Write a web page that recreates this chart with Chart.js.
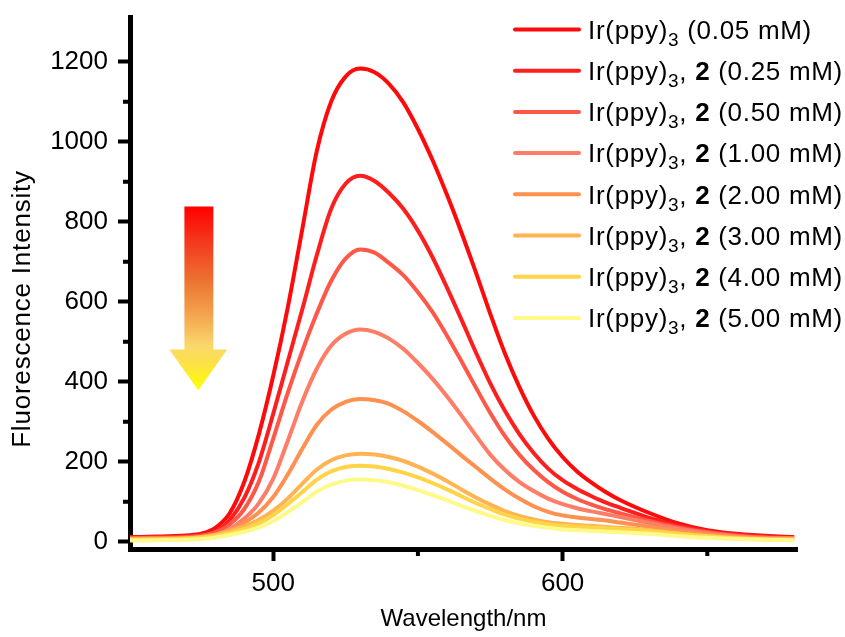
<!DOCTYPE html>
<html>
<head>
<meta charset="utf-8">
<script src="https://cdn.jsdelivr.net/npm/chart.js@4.4.1/dist/chart.umd.min.js"></script>
<style>
  html, body { margin: 0; padding: 0; background: #fff; }
  #wrap { width: 845px; height: 637px; }
</style>
</head>
<body>
<div id="wrap"><canvas id="spectraChart" width="845" height="637"></canvas></div>
<script>
// Emission spectra, Ir(ppy)3 with increasing amounts of 2
const WAVELENGTHS = [450, 460, 470, 475, 480, 485, 490, 495, 500, 505, 510, 515, 520, 525, 530, 535, 540, 545, 550, 555, 560, 565, 570, 575, 580, 585, 590, 595, 600, 605, 610, 615, 620, 630, 640, 650, 660, 670, 680];

const I_005 = [12, 13, 16, 20, 35, 72, 150, 268, 415, 585, 780, 975, 1100, 1163, 1183, 1174, 1145, 1098, 1032, 955, 868, 774, 674, 570, 472, 388, 316, 258, 212, 176, 148, 124, 104, 72, 46, 29, 20, 15, 12];
const I_025 = [10, 11, 13, 16, 25, 55, 110, 198, 320, 450, 580, 715, 832, 895, 915, 902, 872, 832, 778, 712, 636, 556, 474, 396, 328, 270, 222, 183, 154, 132, 114, 98, 85, 60, 41, 27, 18, 13, 10];
const I_050 = [9, 10, 12, 15, 24, 44, 82, 150, 258, 372, 476, 570, 652, 708, 731, 723, 697, 666, 624, 575, 516, 452, 386, 322, 265, 218, 180, 149, 125, 107, 93, 81, 71, 52, 36, 24, 16, 11, 9];
const I_100 = [8, 9, 10, 12, 18, 32, 58, 96, 158, 252, 350, 432, 490, 520, 531, 525, 508, 482, 447, 408, 364, 316, 266, 218, 180, 150, 127, 108, 94, 84, 76, 69, 62, 47, 33, 22, 14, 10, 8];
const I_200 = [7, 8, 9, 11, 17, 30, 48, 73, 112, 168, 232, 292, 330, 350, 357, 354, 345, 326, 302, 275, 246, 216, 187, 158, 131, 108, 89, 75, 66, 61, 57, 53, 48, 38, 27, 18, 12, 9, 8];
const I_300 = [6, 7, 9, 12, 18, 27, 39, 55, 78, 108, 145, 180, 204, 216, 220, 218, 212, 202, 188, 171, 152, 131, 111, 93, 77, 65, 56, 49, 45, 42, 40, 37, 35, 29, 21, 15, 10, 7, 6];
const I_400 = [5, 6, 8, 10, 15, 22, 32, 46, 67, 94, 124, 155, 176, 187, 190, 188, 182, 173, 161, 147, 131, 114, 97, 82, 68, 58, 50, 44, 40, 38, 36, 34, 32, 27, 20, 14, 9, 6, 5];
const I_500 = [3, 4, 5, 7, 11, 17, 25, 36, 52, 74, 99, 125, 143, 153, 156, 154, 149, 140, 129, 117, 104, 90, 77, 65, 54, 46, 40, 35, 31, 29, 27, 25, 24, 20, 14, 10, 7, 5, 4];

const SERIES = [I_005, I_025, I_050, I_100, I_200, I_300, I_400, I_500];
const CONCENTRATIONS = ['0.05', '0.25', '0.50', '1.00', '2.00', '3.00', '4.00', '5.00'];
const COLORS = ['#FF0A0A', '#FF1E1E', '#FF5848', '#FF7C66', '#FF9150', '#FFB352', '#FFD447', '#FFF98A'];

const X_MINOR = [550, 650];
const Y_MINOR = [100, 300, 500, 700, 900, 1100];

// arrow annotation, in axis units
const ARROW_SHAFT = [469.3, 479.3];
const ARROW_HEAD = [464.1, 484.1];
const ARROW_Y = [838, 481, 379];

const FONT = 'Arial, "Liberation Sans", sans-serif';

// plain-text labels; the legend plugin draws the subscript and bold parts
function seriesLabel(i) {
  return i === 0 ? 'Ir(ppy)3 (' + CONCENTRATIONS[i] + ' mM)' : 'Ir(ppy)3, 2 (' + CONCENTRATIONS[i] + ' mM)';
}

const datasets = SERIES.map(function(values, i) {
  return {
    label: seriesLabel(i),
    data: WAVELENGTHS.map(function(w, k) { return { x: w, y: values[k] }; }),
    borderColor: COLORS[i],
    backgroundColor: COLORS[i],
    borderWidth: 4,
    pointRadius: 0,
    fill: false,
    cubicInterpolationMode: 'monotone',
    order: SERIES.length - i
  };
});

const minorTicks = {
  id: 'minorTicks',
  afterDraw(chart) {
    const { ctx, chartArea, scales } = chart;
    ctx.save();
    ctx.strokeStyle = '#000';
    ctx.lineWidth = 4;
    ctx.beginPath();
    X_MINOR.forEach(function(v) {
      const px = scales.x.getPixelForValue(v);
      ctx.moveTo(px, chartArea.bottom);
      ctx.lineTo(px, chartArea.bottom + 7);
    });
    Y_MINOR.forEach(function(v) {
      const py = scales.y.getPixelForValue(v);
      ctx.moveTo(chartArea.left, py);
      ctx.lineTo(chartArea.left - 7, py);
    });
    ctx.stroke();
    ctx.restore();
  }
};

const yTitle = {
  id: 'yTitle',
  afterDraw(chart) {
    const ctx = chart.ctx;
    ctx.save();
    ctx.translate(22.5, 309);
    ctx.rotate(-Math.PI / 2);
    ctx.font = '26px ' + FONT;
    ctx.letterSpacing = '0.8px';
    ctx.fillStyle = '#000';
    ctx.textAlign = 'center';
    ctx.textBaseline = 'middle';
    ctx.fillText('Fluorescence Intensity', 0, 0);
    ctx.restore();
  }
};

const downArrow = {
  id: 'downArrow',
  beforeDatasetsDraw(chart) {
    const { ctx, scales } = chart;
    const sx0 = scales.x.getPixelForValue(ARROW_SHAFT[0]);
    const sx1 = scales.x.getPixelForValue(ARROW_SHAFT[1]);
    const hx0 = scales.x.getPixelForValue(ARROW_HEAD[0]);
    const hx1 = scales.x.getPixelForValue(ARROW_HEAD[1]);
    const top = scales.y.getPixelForValue(ARROW_Y[0]);
    const neck = scales.y.getPixelForValue(ARROW_Y[1]);
    const tip = scales.y.getPixelForValue(ARROW_Y[2]);
    const grad = ctx.createLinearGradient(0, top, 0, tip);
    grad.addColorStop(0, '#FF0000');
    grad.addColorStop(0.2, '#F43A1E');
    grad.addColorStop(0.4, '#EC7230');
    grad.addColorStop(0.62, '#F4AD52');
    grad.addColorStop(0.76, '#FBD86C');
    grad.addColorStop(0.85, '#FDE048');
    grad.addColorStop(1, '#FFFF00');
    ctx.save();
    ctx.fillStyle = grad;
    ctx.beginPath();
    ctx.moveTo(sx0, top);
    ctx.lineTo(sx1, top);
    ctx.lineTo(sx1, neck);
    ctx.lineTo(hx1, neck);
    ctx.lineTo((hx0 + hx1) / 2, tip);
    ctx.lineTo(hx0, neck);
    ctx.lineTo(sx0, neck);
    ctx.closePath();
    ctx.fill();
    ctx.restore();
  }
};

// legend with subscript 3 and bold 2
const richLegend = {
  id: 'richLegend',
  afterDraw(chart) {
    const ctx = chart.ctx;
    const top = 29.5, step = 41.2;
    ctx.save();
    ctx.letterSpacing = '0.7px';
    chart.data.datasets.forEach(function(ds, i) {
      const y = top + i * step;
      ctx.strokeStyle = ds.borderColor;
      ctx.lineWidth = 4;
      ctx.lineCap = 'round';
      ctx.beginPath();
      ctx.moveTo(515, y);
      ctx.lineTo(579, y);
      ctx.stroke();

      const base = y + 9.3;
      let x = 588;
      ctx.fillStyle = '#000';
      ctx.textBaseline = 'alphabetic';
      ctx.textAlign = 'left';
      ctx.font = '26px ' + FONT;
      ctx.fillText('Ir(ppy)', x, base);
      x += ctx.measureText('Ir(ppy)').width;
      ctx.font = '19px ' + FONT;
      ctx.fillText('3', x, base + 7);
      x += ctx.measureText('3').width;
      ctx.font = '26px ' + FONT;
      if (i > 0) {
        ctx.fillText(', ', x, base);
        x += ctx.measureText(', ').width;
        ctx.font = 'bold 26px ' + FONT;
        ctx.fillText('2', x, base);
        x += ctx.measureText('2').width;
        ctx.font = '26px ' + FONT;
      }
      ctx.fillText(' (' + CONCENTRATIONS[i] + ' mM)', x, base);
    });
    ctx.restore();
  }
};

new Chart(document.getElementById('spectraChart'), {
  type: 'line',
  data: { datasets: datasets },
  plugins: [downArrow, minorTicks, yTitle, richLegend],
  options: {
    responsive: false,
    animation: false,
    events: [],
    layout: { padding: { top: 17, right: 48, left: 0, bottom: 0 } },
    plugins: {
      legend: { display: false },
      tooltip: { enabled: false }
    },
    scales: {
      x: {
        type: 'linear',
        min: 450.5,
        max: 681,
        afterFit: function(scale) {
          scale.height = 88;
          scale.paddingLeft = 0;
          scale.paddingRight = 0;
        },
        ticks: {
          stepSize: 100,
          includeBounds: false,
          color: '#000',
          padding: 7,
          font: { family: FONT, size: 26 },
          callback: function(value) { return String(value); }
        },
        grid: {
          drawOnChartArea: false,
          drawTicks: true,
          tickLength: 12,
          tickWidth: 4,
          tickColor: '#000'
        },
        border: { display: true, color: '#000', width: 5 },
        title: {
          display: true,
          text: 'Wavelength/nm',
          color: '#000',
          font: { family: FONT, size: 24 },
          padding: { top: 0, bottom: 3 }
        }
      },
      y: {
        type: 'linear',
        min: -18,
        max: 1312,
        afterFit: function(scale) {
          scale.width = 130;
          scale.paddingTop = 0;
          scale.paddingBottom = 0;
        },
        ticks: {
          stepSize: 200,
          includeBounds: false,
          color: '#000',
          padding: 10,
          font: { family: FONT, size: 26 },
          callback: function(value) { return String(value); }
        },
        grid: {
          drawOnChartArea: false,
          drawTicks: true,
          tickLength: 12,
          tickWidth: 4,
          tickColor: '#000'
        },
        border: { display: true, color: '#000', width: 5 }
      }
    }
  }
});
</script>
</body>
</html>
